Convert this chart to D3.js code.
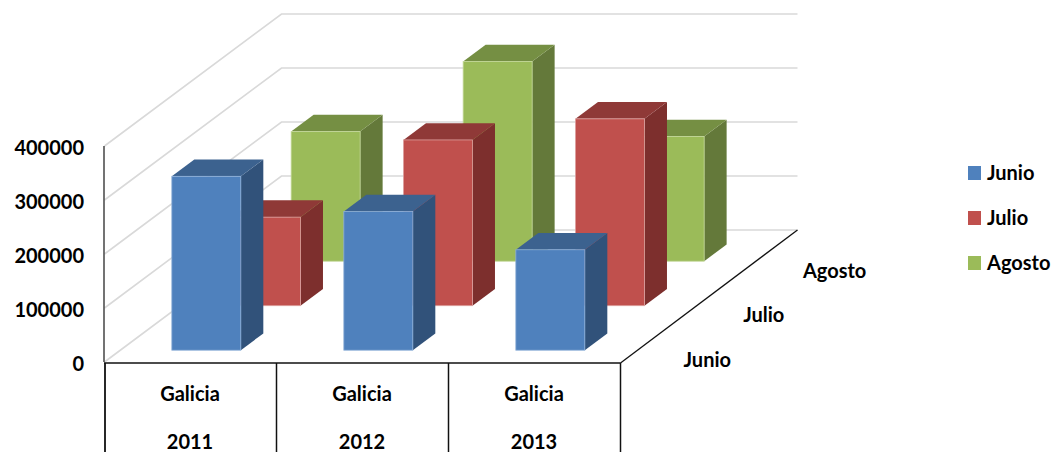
<!DOCTYPE html>
<html>
<head>
<meta charset="utf-8">
<script src="https://cdn.jsdelivr.net/npm/d3@7"></script>
<style>
html,body{margin:0;padding:0;background:#fff;}
svg{display:block;}
text{font-family:Lato,"Open Sans",sans-serif;font-weight:700;fill:#000;}
</style>
</head>
<body>
<svg id="chart" width="1058" height="452"></svg>
<script>
const categoryTop = ["Galicia","Galicia","Galicia"];
const years = ["2011","2012","2013"];
const seriesNames = ["Junio","Julio","Agosto"];
const junio = [322000,257000,186000];
const julio = [164000,307000,346000];
const agosto = [240000,370000,231000];
const valueTicks = [0,100000,200000,300000,400000];
const seriesValues = [junio,julio,agosto];
const frontColors = ["#4F81BD","#C0504D","#9BBB59"];
const topColors = ["#3C628F","#8F3937","#758F43"];
const sideColors = ["#31527A","#7D2F2D","#64793A"];
const edgeColors = ["#8FB0D8","#DDA09E","#C4D89A"];

const svg = d3.select("#chart");
const x = d3.scaleBand().domain(years).range([104.5,620.5]).paddingInner(0.6).paddingOuter(0.3);
const xBand = d3.scaleBand().domain(years).range([104.5,620.5]);
const y = d3.scaleLinear().domain([0,400000]).range([362,146]);
const depth = d3.scaleBand().domain(seriesNames).range([-0.01,0.99]).paddingInner(0.623).paddingOuter(0.295);
const depthDX = d3.scaleLinear().domain([0,1]).range([0,177]);
const depthDY = d3.scaleLinear().domain([0,1]).range([0,-132]);
const pts = a => a.map(p => p.join(",")).join(" ");

// walls
const gridCol = "#D9D9D9";
const grid = svg.append("g").attr("fill","none").attr("stroke",gridCol).attr("stroke-width",1.6);
valueTicks.forEach(v => {
  grid.append("polyline").attr("points",pts([
    [104.5,y(v)],
    [104.5+depthDX(1),y(v)+depthDY(1)],
    [xBand.range()[1]+depthDX(1),y(v)+depthDY(1)]
  ]));
});

// bars, back row first
const barW = 69;
const bars = svg.append("g");
for (let s = seriesNames.length-1; s >= 0; s--) {
  const name = seriesNames[s];
  const d0 = depth(name), d1 = d0 + depth.bandwidth();
  const g = bars.append("g");
  const row = g.selectAll("g").data(seriesValues[s]).join("g");
  const left = (d,i) => xBand(years[i]) + xBand.bandwidth()/2 - barW/2 + depthDX(d0);
  const fy = depthDY(d0), bdx = depthDX(d1)-depthDX(d0), bdy = depthDY(d1)-depthDY(d0);
  row.append("polygon").attr("fill",sideColors[s]).attr("points",(d,i)=>{
    const r = left(d,i)+barW;
    return pts([[r,y(d)+fy],[r+bdx,y(d)+fy+bdy],[r+bdx,y(0)+fy+bdy],[r,y(0)+fy]]);
  });
  row.append("polygon").attr("fill",topColors[s]).attr("points",(d,i)=>{
    const l = left(d,i), r = l+barW;
    return pts([[l,y(d)+fy],[l+bdx,y(d)+fy+bdy],[r+bdx,y(d)+fy+bdy],[r,y(d)+fy]]);
  });
  row.append("rect").attr("fill",frontColors[s])
    .attr("stroke",edgeColors[s]).attr("stroke-width",0.8)
    .attr("x",(d,i)=>left(d,i)).attr("y",d=>y(d)+fy)
    .attr("width",barW).attr("height",d=>y(0)-y(d));
}

// axis lines
const lines = svg.append("g").attr("stroke","#111").attr("fill","none");
lines.append("line").attr("x1",104).attr("x2",104).attr("y1",y(400000)).attr("y2",y(0)).attr("stroke-width",1.5).attr("stroke","#444");
lines.append("line").attr("x1",104).attr("x2",620.5).attr("y1",y(0)+1).attr("y2",y(0)+1).attr("stroke-width",1.5);
lines.append("line").attr("x1",620.5).attr("x2",620.5+depthDX(1)).attr("y1",y(0)+1).attr("y2",y(0)+depthDY(1)).attr("stroke-width",1.3);
const seps = [xBand.range()[0]+0.5].concat(years.map(c => xBand(c)+xBand.bandwidth()));
seps.forEach((sx,i) => lines.append("line").attr("x1",sx).attr("x2",sx).attr("y1",y(0)+1).attr("y2",452).attr("stroke-width",i===0?1.8:1.5));

// value axis
const fs = 20;
const axis = d3.axisLeft(y).tickValues(valueTicks).tickSize(0).tickPadding(0).tickFormat(d3.format("d"));
const ax = svg.append("g").attr("transform","translate(84,2)").call(axis);
ax.select(".domain").remove();
ax.selectAll("text").style("font-family","Lato").style("font-weight",700).style("font-size",fs+"px").attr("fill","#000");

// category labels
const cat = svg.append("g").attr("text-anchor","middle").style("font-size",fs+"px");
cat.selectAll("text.a").data(categoryTop).join("text").attr("class","a")
  .attr("x",(d,i)=>xBand(years[i])+xBand.bandwidth()/2-0.5).attr("y",401).text(d=>d);
cat.selectAll("text.b").data(years).join("text").attr("class","b")
  .attr("x",d=>xBand(d)+xBand.bandwidth()/2-0.5).attr("y",449).text(d=>d);

// depth labels
const depthLabels = svg.append("g").attr("text-anchor","start").style("font-size",fs+"px");
depthLabels.selectAll("text").data(seriesNames).join("text")
  .attr("x",d=>620.5+depthDX(depth(d)+depth.bandwidth()/2)+36)
  .attr("y",d=>y(0)+depthDY(depth(d)+depth.bandwidth()/2)+25)
  .text(d=>d);

// legend
const legendY = d3.scalePoint().domain(seriesNames).range([173,263]);
const leg = svg.append("g").selectAll("g").data(seriesNames).join("g");
leg.append("rect").attr("x",968).attr("y",d=>legendY(d)-7).attr("width",13).attr("height",14)
  .attr("fill",(d,i)=>frontColors[i]);
leg.append("text").attr("x",987).attr("y",d=>legendY(d)+7).style("font-size",fs+"px").text(d=>d);
</script>
</body>
</html>
